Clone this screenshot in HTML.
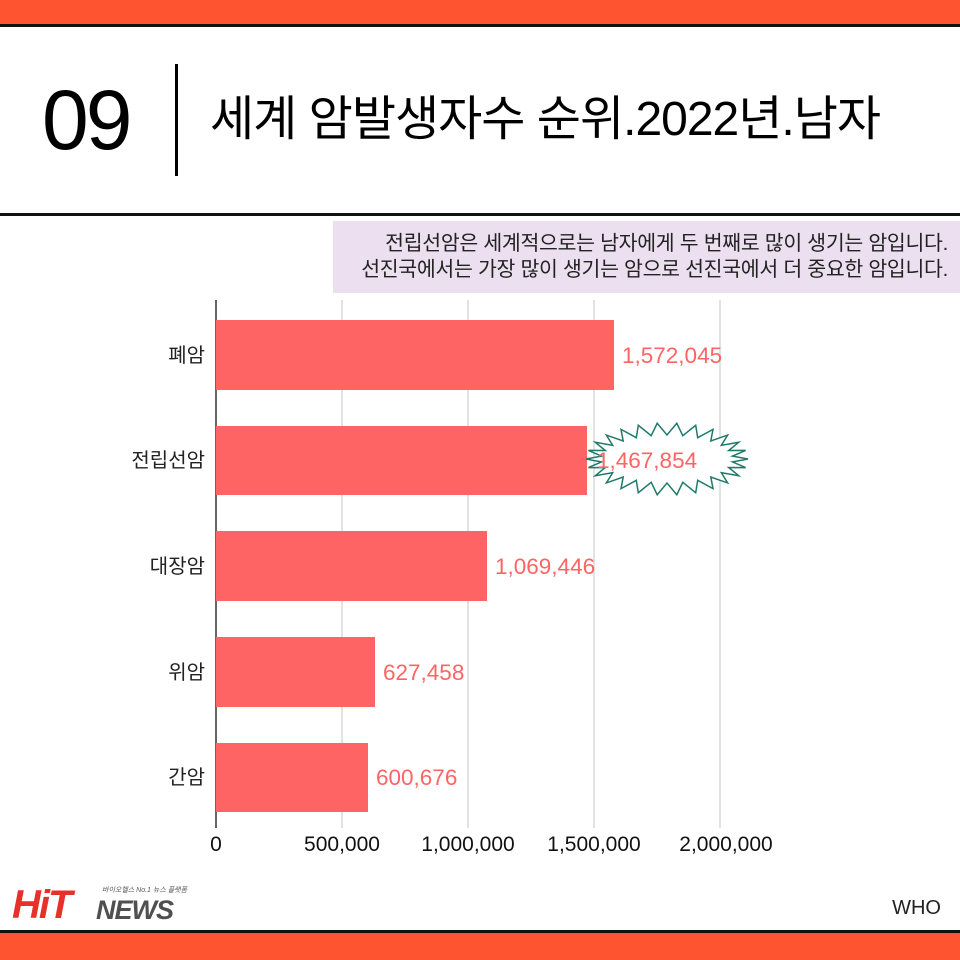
<!DOCTYPE html>
<html><head><meta charset="utf-8"><style>
body{margin:0;width:960px;height:960px;background:#fff;overflow:hidden;position:relative;font-family:"Liberation Sans","Noto Sans CJK KR",sans-serif}
.a{position:absolute}
</style></head><body>
<div class="a" style="left:0;top:0;width:960px;height:24px;background:#ff5430"></div>
<div class="a" style="left:0;top:24px;width:960px;height:3px;background:#111"></div>
<div class="a" style="left:42px;top:70px;font-size:84px;line-height:100px;color:#000;letter-spacing:-3px">09</div>
<div class="a" style="left:175px;top:64px;width:3px;height:112px;background:#000"></div>
<div class="a" style="left:210px;top:90px;font-size:48px;line-height:60px;color:#000;letter-spacing:-1px">세계 암발생자수 순위.2022년.남자</div>
<div class="a" style="left:0;top:213px;width:960px;height:3px;background:#111"></div>
<div class="a" style="left:333px;top:221px;width:627px;height:72px;background:#ebdff0"></div>
<div class="a" style="right:12px;top:231px;font-size:20.5px;line-height:26px;text-align:right;color:#222;letter-spacing:-0.3px;white-space:nowrap">전립선암은 세계적으로는 남자에게 두 번째로 많이 생기는 암입니다.<br>선진국에서는 가장 많이 생기는 암으로 선진국에서 더 중요한 암입니다.</div>
<svg class="a" style="left:0;top:0" width="960" height="960">
<g stroke="#d8d8d8" stroke-width="1.5">
<line x1="342" y1="300" x2="342" y2="828"/><line x1="468" y1="300" x2="468" y2="828"/><line x1="594" y1="300" x2="594" y2="828"/><line x1="720" y1="300" x2="720" y2="828"/>
</g>
<line x1="216" y1="300" x2="216" y2="828" stroke="#333" stroke-width="1.5"/>
<g fill="#ff6464">
<rect x="216" y="320" width="398" height="70"/>
<rect x="216" y="426" width="371" height="69"/>
<rect x="216" y="531" width="271" height="70"/>
<rect x="216" y="637" width="159" height="70"/>
<rect x="216" y="743" width="152" height="69"/>
</g>
<polygon id="star" fill="#fff" stroke="#1f7a6a" stroke-width="1.5" points=""/>
<g font-size="22.5" fill="#ff6464" font-family="Liberation Sans, sans-serif">
<text x="622" y="363">1,572,045</text>
<text x="597" y="468">1,467,854</text>
<text x="495" y="574">1,069,446</text>
<text x="383" y="680">627,458</text>
<text x="376" y="785">600,676</text>
</g>
<g font-size="20" fill="#222" text-anchor="end">
<text x="205" y="362">폐암</text>
<text x="205" y="467">전립선암</text>
<text x="205" y="573">대장암</text>
<text x="205" y="679">위암</text>
<text x="205" y="784">간암</text>
</g>
<g font-size="21" fill="#111" text-anchor="middle" font-family="Liberation Sans, sans-serif">
<text x="216" y="851">0</text><text x="342" y="851">500,000</text><text x="468" y="851">1,000,000</text><text x="594" y="851">1,500,000</text><text x="726" y="851">2,000,000</text>
</g>
<g font-style="italic" font-weight="bold" font-family="Liberation Sans, sans-serif">
<text x="12" y="918" font-size="40" fill="#e8302a" letter-spacing="-2">HiT</text>
<text x="96" y="919" font-size="27" fill="#505050" letter-spacing="-1">NEWS</text>
<text x="102" y="892" font-size="7" fill="#555" font-weight="normal">바이오헬스 No.1 뉴스 플랫폼</text>
</g>
<text x="941" y="914" font-size="20" fill="#222" text-anchor="end" font-family="Liberation Sans, sans-serif">WHO</text>
</svg>
<script>
var p=[],cx=667,cy=459,n=26;
for(var i=0;i<n*2;i++){var t=i/(n*2)*Math.PI*2,o=i%2==0;var rx=o?81:66,ry=o?36:24;
var x=cx+rx*Math.cos(t),y=cy+ry*Math.sin(t);p.push(x.toFixed(1)+','+y.toFixed(1));}
document.getElementById('star').setAttribute('points',p.join(' '));
</script>
<div class="a" style="left:0;top:930px;width:960px;height:3px;background:#111"></div>
<div class="a" style="left:0;top:933px;width:960px;height:27px;background:#ff5430"></div>
</body></html>
